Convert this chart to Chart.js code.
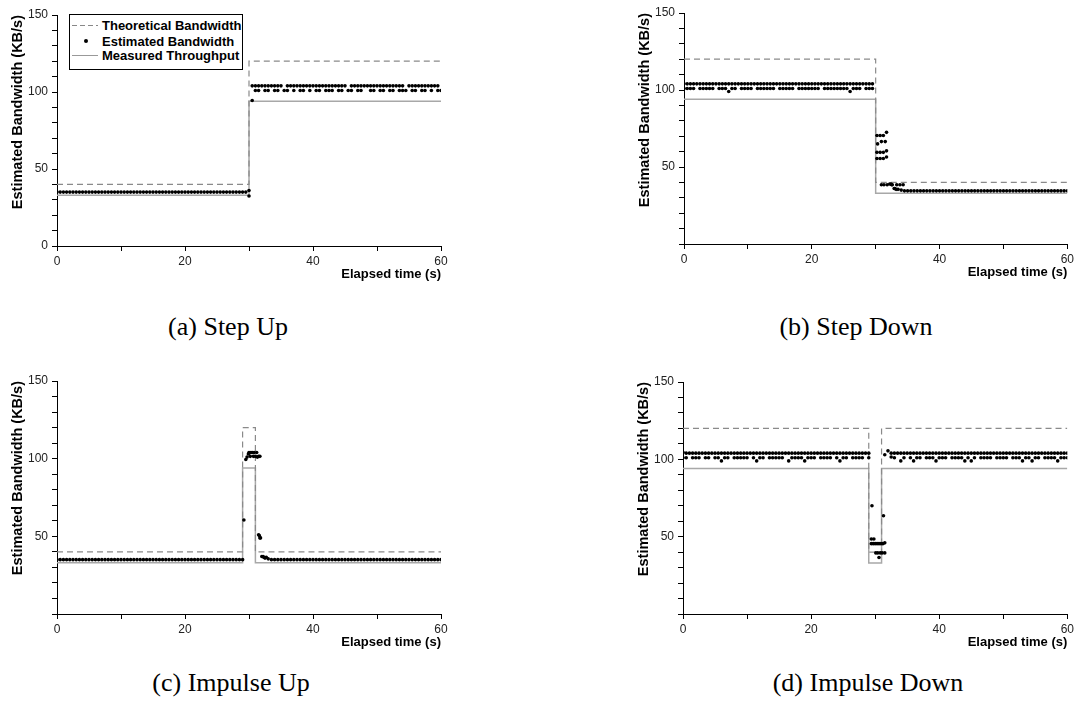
<!DOCTYPE html>
<html>
<head>
<meta charset="utf-8">
<script src="https://cdn.jsdelivr.net/npm/chart.js@4.4.1/dist/chart.umd.min.js"></script>
<style>
  body { margin: 0; background: #fff; width: 1077px; height: 707px; position: relative; overflow: hidden; font-family: "Liberation Sans", Arial, sans-serif; }
  canvas { position: absolute; }
  .caption { position: absolute; font-family: "Liberation Serif", "Times New Roman", serif; font-size: 26px; line-height: 26px; color: #000; transform: translateX(-50%); white-space: nowrap; }
  #legend { position: absolute; left: 69px; top: 14px; width: 172px; height: 54px; border: 1px solid #000; background: #fff; z-index: 2; font: bold 13px "Liberation Sans", Arial, sans-serif; color: #000; }
  #legend .row { position: absolute; left: 0; width: 100%; height: 15px; line-height: 15px; }
  #legend .txt { position: absolute; left: 32px; top: 0; white-space: nowrap; }
  #legend .dash { position: absolute; left: 2px; top: 7px; width: 26px; height: 1px; background: repeating-linear-gradient(to right, #888 0 5px, transparent 5px 8px); }
  #legend .dot { position: absolute; left: 14px; top: 5px; width: 4px; height: 4px; border-radius: 2px; background: #000; }
  #legend .solid { position: absolute; left: 2px; top: 7px; width: 26px; height: 1px; background: #999; }
</style>
</head>
<body>
<canvas id="chartA" width="465" height="286" style="left:0px;top:0px"></canvas>
<canvas id="chartB" width="450" height="284" style="left:627px;top:0px"></canvas>
<canvas id="chartC" width="465" height="288" style="left:0px;top:366px"></canvas>
<canvas id="chartD" width="451" height="288" style="left:626px;top:366px"></canvas>

<div id="legend">
  <div class="row" style="top:3px"><span class="dash"></span><span class="txt">Theoretical Bandwidth</span></div>
  <div class="row" style="top:19px"><span class="dot"></span><span class="txt">Estimated Bandwidth</span></div>
  <div class="row" style="top:33px"><span class="solid"></span><span class="txt">Measured Throughput</span></div>
</div>

<div class="caption" style="left:228px;top:314px">(a) Step Up</div>
<div class="caption" style="left:856px;top:314px">(b) Step Down</div>
<div class="caption" style="left:231px;top:670px">(c) Impulse Up</div>
<div class="caption" style="left:868px;top:670px">(d) Impulse Down</div>

<script>
// sample times of the estimator (s)
const timeGrid = [0,0.5,1,1.5,2,2.5,3,3.5,4,4.5,5,5.5,6,6.5,7,7.5,8,8.5,9,9.5,
  10,10.5,11,11.5,12,12.5,13,13.5,14,14.5,15,15.5,16,16.5,17,17.5,18,18.5,19,19.5,
  20,20.5,21,21.5,22,22.5,23,23.5,24,24.5,25,25.5,26,26.5,27,27.5,28,28.5,29,29.5,
  30,30.5,31,31.5,32,32.5,33,33.5,34,34.5,35,35.5,36,36.5,37,37.5,38,38.5,39,39.5,
  40,40.5,41,41.5,42,42.5,43,43.5,44,44.5,45,45.5,46,46.5,47,47.5,48,48.5,49,49.5,
  50,50.5,51,51.5,52,52.5,53,53.5,54,54.5,55,55.5,56,56.5,57,57.5,58,58.5,59,59.5,
  60];

// breakpoints of the theoretical / measured step curves
const stepTimes = [0, 30, 30, 60];
const impulseTimes = [0, 29, 29, 31, 31, 60];

// (a) Step Up
const stepUpTheo = [40, 40, 120, 120];
const stepUpMeas = [33, 33, 94, 94];
const stepUpHigh = [
  35,35,35,35,35,35,35,35,35,35,35,35,35,35,35,35,35,35,35,35,
  35,35,35,35,35,35,35,35,35,35,35,35,35,35,35,35,35,35,35,35,
  35,35,35,35,35,35,35,35,35,35,35,35,35,35,35,35,35,35,35,35,
  36,104,104,104,104,104,104,104,104,104,104,null,104,104,104,104,104,104,104,104,
  104,104,104,104,104,104,104,104,104,104,104,null,104,104,104,104,104,104,104,104,
  104,104,104,104,104,104,104,104,104,null,104,104,104,104,104,104,104,104,104,104,
  null];
const stepUpLow = [
  null,null,null,null,null,null,null,null,null,null,null,null,null,null,null,null,null,null,null,null,
  null,null,null,null,null,null,null,null,null,null,null,null,null,null,null,null,null,null,null,null,
  null,null,null,null,null,null,null,null,null,null,null,null,null,null,null,null,null,null,null,null,
  32.5,94.5,101,101,null,101,101,null,101,101,null,101,101,null,101,null,101,101,null,101,
  null,101,101,null,101,101,101,null,101,101,null,101,101,null,101,101,null,null,101,101,
  null,101,101,null,101,101,null,101,101,101,null,101,101,null,101,101,null,101,null,101,
  101];
const stepUpExtra = [];

// (b) Step Down
const stepDownTheo = [120, 120, 40, 40];
const stepDownMeas = [94, 94, 33, 33];
const stepDownHigh = [
  104,104,104,104,104,104,104,104,104,104,104,104,104,104,104,104,104,104,104,104,
  104,104,104,104,104,104,104,104,104,104,104,104,104,104,104,104,104,104,104,104,
  104,104,104,104,104,104,104,104,104,104,104,104,104,104,104,104,104,104,104,104,
  null,null,null,null,null,38.5,36,35.5,35,34.5,34.5,34.5,34.5,34.5,34.5,34.5,34.5,34.5,34.5,34.5,
  34.5,34.5,34.5,34.5,34.5,34.5,34.5,34.5,34.5,34.5,34.5,34.5,34.5,34.5,34.5,34.5,34.5,34.5,34.5,34.5,
  34.5,34.5,34.5,34.5,34.5,34.5,34.5,34.5,34.5,34.5,34.5,34.5,34.5,34.5,34.5,34.5,34.5,34.5,34.5,34.5,
  34.5];
const stepDownLow = [
  101,101,101,101,null,101,101,101,101,101,null,101,101,101,99,101,101,null,101,101,
  101,101,null,101,101,101,101,101,101,null,101,101,101,101,101,null,101,101,101,101,
  101,101,101,null,101,101,101,101,101,101,101,101,99,101,101,101,null,101,101,101,
  null,null,null,null,null,null,null,null,null,null,null,null,null,null,null,null,null,null,null,null,
  null,null,null,null,null,null,null,null,null,null,null,null,null,null,null,null,null,null,null,null,
  null,null,null,null,null,null,null,null,null,null,null,null,null,null,null,null,null,null,null,null,
  null];
const stepDownExtra = [
  [30.2,70.5],[30.7,70.5],[31.2,70.5],[31.7,72.5],
  [30.3,65],[30.9,66.5],[31.5,66.5],
  [30.2,59.5],[30.7,59.5],[31.2,59.5],[31.7,60.5],
  [30.2,55.5],[30.7,55.5],[31.2,55.5],[31.7,56.5],
  [30.9,38.5],[31.3,38.5],[31.8,38.5],[32.2,39],[32.4,39],[32.6,38.5],
  [33.3,38.5],[33.8,38.5],[34.3,38.5],[32.9,36],[33.2,35.5]];

// (c) Impulse Up
const impulseUpTheo = [40, 40, 120, 120, 40, 40];
const impulseUpMeas = [33, 33, 94, 94, 33, 33];
const impulseUpHigh = [
  35,35,35,35,35,35,35,35,35,35,35,35,35,35,35,35,35,35,35,35,
  35,35,35,35,35,35,35,35,35,35,35,35,35,35,35,35,35,35,35,35,
  35,35,35,35,35,35,35,35,35,35,35,35,35,35,35,35,35,35,35,99.5,
  104,104,101.5,101.5,37,36,35.5,35,35,35,35,35,35,35,35,35,35,35,35,35,
  35,35,35,35,35,35,35,35,35,35,35,35,35,35,35,35,35,35,35,35,
  35,35,35,35,35,35,35,35,35,35,35,35,35,35,35,35,35,35,35,35,
  35];
const impulseUpLow = [];
const impulseUpExtra = [
  [29.2,60.5],[29.7,101],[29.9,103],[30.2,101.5],[30.3,104],[30.7,101.5],[30.8,104],
  [31.2,104],[31.3,101],[31.7,101.5],[31.5,51],[31.6,50.5],[31.7,49],[31.8,49],
  [32.2,37],[32.3,36.5],[32.7,36.5]];

// (d) Impulse Down
const impulseDownTheo = [120, 120, 40, 40, 120, 120];
const impulseDownMeas = [94, 94, 33, 33, 94, 94];
const impulseDownHigh = [
  104.5,104,104,104,104,104,104,104,104,104,104,104,104,104,104,104,104,104,104,104,
  104,104,104,104,104,104,104,104,104,104,104,104,104,104,104,104,104,104,104,104,
  104,104,104,104,104,104,104,104,104,104,104,104,104,104,104,104,104,104,104,null,
  null,null,null,103,105.5,104,104,104,104,104,104,104,104,104,104,104,104,104,104,104,
  104,104,104,104,104,104,104,104,104,104,104,104,104,104,104,104,104,104,104,104,
  104,104,104,104,104,104,104,104,104,104,104,104,104,104,104,104,104,104,104,104,
  104];
const impulseDownLow = [
  101,101,null,101,101,101,null,101,101,null,101,101,99,101,101,null,101,101,101,101,
  101,null,101,99,101,101,null,101,101,101,101,101,null,99,101,101,101,101,99,101,
  101,101,null,101,101,101,101,null,101,99,101,101,null,101,101,101,101,null,101,null,
  null,null,null,null,null,101.5,101,null,99,101,null,101,99,101,101,null,101,101,101,99,
  101,101,101,null,101,101,101,101,99,101,99,101,null,101,101,101,101,null,101,101,
  101,101,null,101,101,101,99,101,101,99,101,101,null,101,101,101,101,99,101,101,
  101];
const impulseDownExtra = [
  [29.5,70],[29.4,48.5],[29.8,48.5],
  [29.4,45.5],[29.7,45.5],[30,45.5],[30.3,45.5],[30.6,45.5],[30.9,45.5],[31.2,45.5],[31.5,46],
  [30.1,39.5],[30.4,39.5],[30.8,39.5],[31.1,39.5],[31.5,39.5],[30.6,36.5],[31.3,63.5]];

Chart.defaults.font.family = '"Liberation Sans", Arial, sans-serif';
Chart.defaults.color = '#111';

function estPoints(bands, extra) {
  const pts = [];
  for (const band of bands) {
    band.forEach((v, i) => { if (v !== null) pts.push({x: timeGrid[i], y: v}); });
  }
  for (const [t, v] of extra) pts.push({x: t, y: v});
  return pts;
}

function linePoints(times, values) {
  return times.map((t, i) => ({x: t, y: values[i]}));
}

function makeChart(id, est, times, theo, meas, pad, showZero) {
  const axisGrid = { display: true, drawOnChartArea: false, drawTicks: true, tickLength: 5, color: '#000' };
  new Chart(document.getElementById(id), {
    type: 'scatter',
    data: {
      datasets: [{
        label: 'Estimated Bandwidth',
        data: est,
        pointRadius: 1.8,
        pointBackgroundColor: '#000',
        pointBorderWidth: 0,
        order: 0
      }, {
        label: 'Theoretical Bandwidth',
        data: linePoints(times, theo),
        showLine: true,
        borderColor: '#8a8a8a',
        borderWidth: 1.2,
        borderDash: [6, 4],
        pointRadius: 0,
        order: 1
      }, {
        label: 'Measured Throughput',
        data: linePoints(times, meas),
        showLine: true,
        borderColor: '#a8a8a8',
        borderWidth: 1.5,
        pointRadius: 0,
        order: 2
      }]
    },
    options: {
      responsive: false,
      animation: false,
      layout: { padding: pad },
      plugins: { legend: { display: false }, tooltip: { enabled: false } },
      scales: {
        x: {
          type: 'linear', min: 0, max: 60,
          grid: axisGrid,
          border: { display: true, color: '#000', width: 1 },
          ticks: {
            stepSize: 10, autoSkip: false, maxRotation: 0, padding: 3,
            color: '#222', font: { size: 12 },
            callback: v => (v % 20 === 0 ? String(v) : '')
          },
          title: {
            display: true, text: 'Elapsed time (s)', align: 'end', color: '#000',
            font: { size: 13, weight: 'bold' }, padding: { top: 0, bottom: 4 }
          },
          afterFit: s => { s.height = 40; }
        },
        y: {
          min: 0, max: 150,
          grid: axisGrid,
          border: { display: true, color: '#000', width: 1 },
          ticks: {
            stepSize: 10, autoSkip: false, padding: 4,
            color: '#222', font: { size: 12 },
            callback: v => ((v % 50 === 0 && (v > 0 || showZero)) ? String(v) : '')
          },
          title: {
            display: true, text: 'Estimated Bandwidth (KB/s)', align: 'end', color: '#000',
            font: { size: 14.5, weight: 'bold' }, padding: { top: 4, bottom: 4 }
          },
          afterFit: s => { s.width = 52; }
        }
      }
    }
  });
}

makeChart('chartA', estPoints([stepUpHigh, stepUpLow], stepUpExtra), stepTimes, stepUpTheo, stepUpMeas,
  { left: 5, right: 24, top: 15, bottom: 0 }, true);
makeChart('chartB', estPoints([stepDownHigh, stepDownLow], stepDownExtra), stepTimes, stepDownTheo, stepDownMeas,
  { left: 5, right: 9, top: 13, bottom: 0 }, false);
makeChart('chartC', estPoints([impulseUpHigh, impulseUpLow], impulseUpExtra), impulseTimes, impulseUpTheo, impulseUpMeas,
  { left: 5, right: 24, top: 15, bottom: 0 }, false);
makeChart('chartD', estPoints([impulseDownHigh, impulseDownLow], impulseDownExtra), impulseTimes, impulseDownTheo, impulseDownMeas,
  { left: 5, right: 8, top: 16, bottom: 0 }, false);
</script>
</body>
</html>
